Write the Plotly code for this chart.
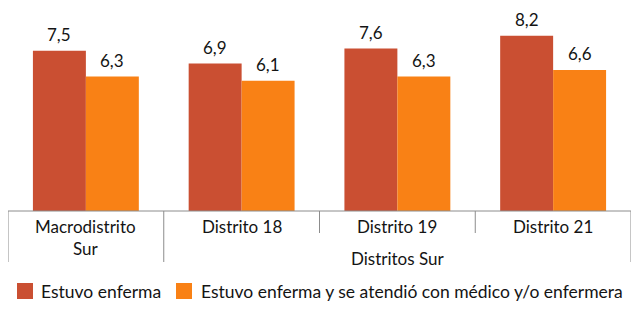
import plotly.graph_objects as go

categories = ["Macrodistrito Sur", "Distrito 18", "Distrito 19", "Distrito 21"]
cat_labels = ["Macrodistrito<br>Sur", "Distrito 18", "Distrito 19", "Distrito 21"]
group_label = "Distritos Sur"
series1_name = "Estuvo enferma"
series1 = [7.5, 6.9, 7.6, 8.2]
series2_name = "Estuvo enferma y se atendió con médico y/o enfermera"
series2 = [6.3, 6.1, 6.3, 6.6]

RED = "#CA4F32"
ORANGE = "#F98115"
FONT = "Lato, 'Open Sans', sans-serif"
TXT = "#141414"
LINE = "#8c8c8c"

# layout geometry (pixels)
W, H = 638, 323
ML, MR, MT, MB = 8, 7, 8, 112
PW, PH = W - ML - MR, H - MT - MB


def px_x(p):
    return (p - ML) / PW


def px_y(p):
    return (H - MB - p) / PH


fig = go.Figure()
series = [(series1_name, series1, RED), (series2_name, series2, ORANGE)]
for name, vals, col in series:
    fig.add_trace(go.Bar(
        x=categories, y=vals, name=name, marker=dict(color=col, line=dict(width=0)),
        showlegend=False, hoverinfo="x+y+name",
    ))

BAR_PX = 0.68 * PW / 4 / 2
annotations = []
for k, (name, vals, col) in enumerate(series):
    off = (k - 0.5) * BAR_PX
    for c, v in zip(categories, vals):
        annotations.append(dict(x=c, y=v, xref="x", yref="y", text=f"{v:.1f}".replace(".", ","),
                                showarrow=False, xshift=off, yshift=16, yanchor="middle",
                                font=dict(family=FONT, size=17, color=TXT)))

shapes = []
shapes.append(dict(type="line", xref="x", yref="paper", x0=-0.5, x1=3.5, y0=0, y1=0,
                   line=dict(color=LINE, width=1)))
for xv in [-0.5, 0.5, 3.5]:
    shapes.append(dict(type="line", xref="x", yref="paper", x0=xv, x1=xv, y0=0, y1=px_y(262),
                       line=dict(color=LINE, width=1)))
for xv in [1.5, 2.5]:
    shapes.append(dict(type="line", xref="x", yref="paper", x0=xv, x1=xv, y0=0, y1=px_y(233),
                       line=dict(color=LINE, width=1)))

for c, lab in zip(categories, cat_labels):
    annotations.append(dict(x=c, xref="x", y=px_y(214), yref="paper", text=lab, showarrow=False,
                            yanchor="top", font=dict(family=FONT, size=17, color=TXT)))
annotations.append(dict(x=2, xref="x", y=px_y(258), yref="paper", text=group_label, showarrow=False,
                        yanchor="middle", font=dict(family=FONT, size=17, color=TXT)))

# legend
leg = [(series1_name, RED, 17, 39), (series2_name, ORANGE, 176, 199)]
for name, col, sq, tx in leg:
    shapes.append(dict(type="rect", xref="paper", yref="paper", x0=px_x(sq), x1=px_x(sq + 16),
                       y0=px_y(299), y1=px_y(283), fillcolor=col, line=dict(width=0)))
    annotations.append(dict(x=px_x(tx), y=px_y(291), xref="paper", yref="paper", text=name,
                            showarrow=False, xanchor="left", yanchor="middle",
                            font=dict(family=FONT, size=17.5, color=TXT)))

fig.update_layout(
    width=W, height=H,
    margin=dict(l=ML, r=MR, t=MT, b=MB),
    paper_bgcolor="white", plot_bgcolor="white",
    barmode="group", bargap=0.32, bargroupgap=0,
    xaxis=dict(showticklabels=False, showline=False, showgrid=False, zeroline=False,
               range=[-0.5, 3.5]),
    yaxis=dict(visible=False, range=[0, 9.5]),
    showlegend=False,
    shapes=shapes, annotations=annotations,
)

fig.write_html("out.html")
